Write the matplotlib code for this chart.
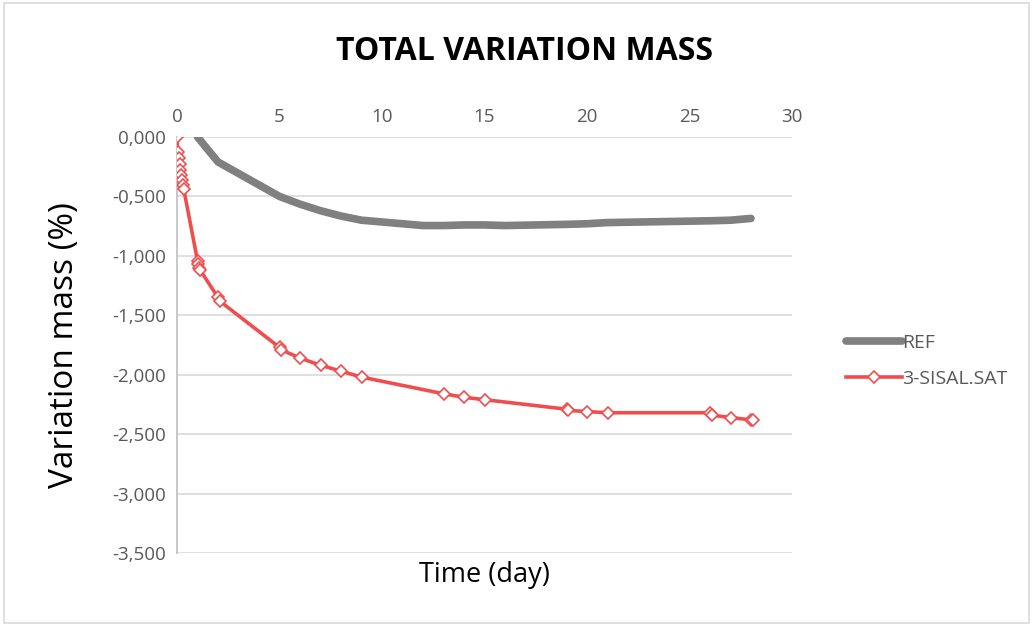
import numpy as np
import matplotlib.pyplot as plt

# REF series (day, variation mass %)
ref_days = [1, 2, 5, 6, 7, 8, 9, 12, 13, 14, 15, 16, 19, 20, 21, 26, 27, 28]
ref_mass = [0.0, -0.21, -0.50, -0.565, -0.62, -0.665, -0.70, -0.745, -0.745, -0.74,
            -0.74, -0.745, -0.735, -0.73, -0.72, -0.705, -0.70, -0.685]

# 3-SISAL.SAT series
sis_days = [0, 0.04, 0.08, 0.13, 0.17, 0.21, 0.25, 0.29, 0.33,
            1.0, 1.04, 1.08, 1.13, 2.0, 2.08,
            5.0, 5.08, 6.0, 7.0, 8.0, 9.0,
            13.0, 14.0, 15.0, 19.0, 19.08, 20.0, 21.0,
            26.0, 26.08, 27.0, 28.0, 28.08]
sis_mass = [0.0, -0.13, -0.18, -0.23, -0.28, -0.32, -0.36, -0.40, -0.44,
            -1.04, -1.07, -1.10, -1.12, -1.35, -1.38,
            -1.77, -1.79, -1.86, -1.92, -1.97, -2.02,
            -2.16, -2.19, -2.21, -2.29, -2.30, -2.31, -2.32,
            -2.32, -2.34, -2.36, -2.38, -2.38]

y_ticks = [0, -0.5, -1.0, -1.5, -2.0, -2.5, -3.0, -3.5]
x_ticks = [0, 5, 10, 15, 20, 25, 30]

plt.rcParams['font.family'] = ['Open Sans', 'DejaVu Sans']

fig = plt.figure(figsize=(10.33, 6.26), dpi=100)
ax = fig.add_axes([177/1033, 1 - 553/626, (792-177)/1033, (553-137)/626])

ax.plot(ref_days, ref_mass, color='#808080', lw=5.5, solid_capstyle='round',
        solid_joinstyle='round', label='REF', zorder=3)
ax.plot(sis_days, sis_mass, color='#F04E4E', lw=2.6, marker='D', markersize=6.5,
        markerfacecolor='white', markeredgecolor='#F04E4E', markeredgewidth=1.2,
        label='3-SISAL.SAT', zorder=4)

ax.set_xlim(0, 30)
ax.set_ylim(-3.5, 0)
ax.xaxis.tick_top()
ax.set_xticks(x_ticks)
ax.set_yticks(y_ticks)
ax.set_yticklabels([f'{v:.3f}'.replace('.', ',') for v in y_ticks])
ax.tick_params(axis='both', length=0, labelsize=13.5, labelcolor='#595959', pad=8)
ax.grid(axis='y', color='#d9d9d9', lw=1.2)
ax.set_axisbelow(True)
for s in ['top', 'right', 'bottom']:
    ax.spines[s].set_visible(False)
ax.spines['left'].set_color('#bfbfbf')
ax.spines['left'].set_linewidth(1.2)

ax.set_xlabel('Time (day)', fontsize=19.5, labelpad=6)
ax.set_ylabel('Variation mass (%)', fontsize=24, labelpad=22)

fig.text(525/1033, 1 - 51/626, 'TOTAL VARIATION MASS', ha='center', va='center',
         fontsize=23, fontweight='bold')

leg = ax.legend(loc='center left', bbox_to_anchor=(828/1033, 1 - 361/626),
                bbox_transform=fig.transFigure, frameon=False, fontsize=14,
                handlelength=2.9, labelspacing=0.95, handletextpad=0.0)
for t in leg.get_texts():
    t.set_color('#595959')

# chart border
fig.patches.append(plt.Rectangle((0.004, 0.004), 0.992, 0.992, transform=fig.transFigure,
                                 fill=False, edgecolor='#d9d9d9', lw=1.2))

fig.savefig('out.png', dpi=100)
